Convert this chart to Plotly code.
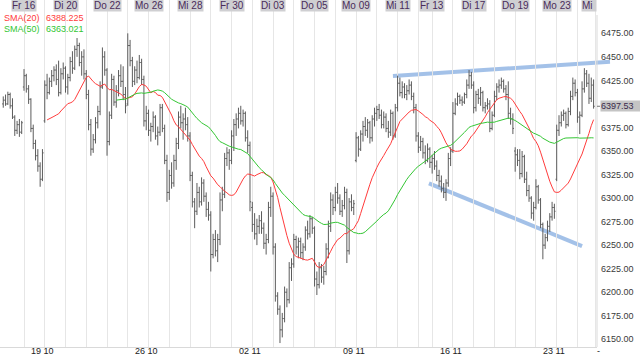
import numpy as np
import pandas as pd
import plotly.graph_objects as go

# ---------------- data ----------------
day_names = ["Do 15", "Fr 16", "Mo 19", "Di 20", "Mi 21", "Do 22", "Fr 23", "Mo 26", "Di 27", "Mi 28",
             "Do 29", "Fr 30", "Mo 02", "Di 03", "Mi 04", "Do 05", "Fr 06", "Mo 09", "Di 10", "Mi 11",
             "Do 12", "Fr 13", "Mo 16", "Di 17", "Mi 18", "Do 19", "Fr 20", "Mo 23", "Di 24", "Mi 25"]
bars_per_day = [9] * 20 + [6] + [9] * 7 + [8]
top_label_days = [1, 3, 5, 7, 9, 11, 13, 15, 17, 19, 21, 23, 25, 27]
week_labels = ["19 10", "26 10", "02 11", "09 11", "16 11", "23 11"]
week_label_days = [2, 7, 12, 17, 22, 27]

opens = [
    6400, 6404, 6400, 6410, 6398, 6386, 6372, 6378, 6370,
    6418, 6430, 6416, 6405, 6374, 6358, 6345, 6334, 6320,
    6382, 6420, 6412, 6424, 6430, 6436, 6426, 6412, 6432,
    6438, 6418, 6428, 6445, 6438, 6458, 6462, 6444, 6450,
    6432, 6410, 6378, 6352, 6362, 6380, 6392, 6418, 6450,
    6436, 6360, 6388, 6426, 6402, 6414, 6430, 6424, 6410,
    6400, 6462, 6446, 6424, 6436, 6428, 6444, 6426, 6382,
    6390, 6372, 6376, 6386, 6366, 6370, 6396, 6374, 6340,
    6306, 6324, 6316, 6340, 6358, 6386, 6380, 6384, 6378,
    6366, 6324, 6296, 6286, 6306, 6296, 6316, 6302, 6288,
    6282, 6240, 6256, 6244, 6256, 6298, 6304, 6342, 6348,
    6340, 6366, 6378, 6384, 6390, 6382, 6390, 6364, 6356,
    6290, 6272, 6262, 6270, 6276, 6268, 6252, 6256, 6290,
    6302, 6248, 6196, 6182, 6160, 6172, 6200, 6192, 6226,
    6230, 6256, 6248, 6254, 6242, 6248, 6266, 6262, 6278,
    6268, 6214, 6208, 6226, 6216, 6222, 6246, 6270, 6298,
    6290, 6306, 6300, 6286, 6292, 6306, 6244, 6296, 6290,
    6340, 6364, 6352, 6368, 6376, 6372, 6380, 6364, 6384,
    6390, 6394, 6388, 6378, 6386, 6374, 6370, 6390, 6366,
    6396, 6422, 6412, 6418, 6410, 6414, 6420, 6408, 6396,
    6366, 6354, 6360, 6348, 6340, 6352,
    6338, 6342, 6334, 6324, 6318, 6310, 6306, 6316, 6342,
    6350, 6390, 6400, 6408, 6404, 6402, 6410, 6420, 6430,
    6420, 6396, 6410, 6406, 6412, 6396, 6398, 6400, 6374,
    6388, 6408, 6418, 6420, 6424, 6416, 6410, 6390, 6384,
    6350, 6346, 6340, 6326, 6344, 6320, 6308, 6300, 6284,
    6290, 6312, 6298, 6272, 6250, 6258, 6270, 6280, 6290,
    6320, 6372, 6380, 6388, 6390, 6378, 6392, 6408, 6422,
    6412, 6386, 6388, 6416, 6432, 6422, 6406, 6420,
]
highs = [
    6408, 6410, 6413, 6412, 6406, 6388, 6382, 6384, 6382,
    6437, 6432, 6420, 6406, 6378, 6362, 6352, 6338, 6352,
    6425, 6432, 6428, 6436, 6440, 6442, 6446, 6438, 6444,
    6440, 6432, 6450, 6456, 6462, 6470, 6465, 6456, 6458,
    6436, 6415, 6384, 6368, 6386, 6398, 6424, 6460, 6456,
    6438, 6392, 6432, 6430, 6420, 6436, 6442, 6440, 6418,
    6475, 6468, 6450, 6440, 6446, 6452, 6448, 6430, 6398,
    6394, 6380, 6392, 6388, 6376, 6400, 6400, 6378, 6346,
    6330, 6338, 6346, 6364, 6392, 6398, 6390, 6396, 6386,
    6370, 6328, 6300, 6316, 6312, 6322, 6320, 6306, 6296,
    6286, 6262, 6266, 6262, 6306, 6312, 6348, 6354, 6352,
    6372, 6384, 6390, 6396, 6398, 6394, 6392, 6372, 6360,
    6296, 6284, 6278, 6282, 6286, 6274, 6262, 6296, 6312,
    6306, 6252, 6200, 6186, 6178, 6206, 6204, 6232, 6236,
    6262, 6260, 6258, 6258, 6252, 6270, 6276, 6282, 6280,
    6270, 6222, 6232, 6230, 6228, 6252, 6276, 6306, 6304,
    6312, 6316, 6304, 6298, 6312, 6310, 6300, 6304, 6298,
    6370, 6366, 6372, 6382, 6386, 6384, 6382, 6388, 6396,
    6398, 6400, 6394, 6392, 6390, 6382, 6394, 6392, 6400,
    6430, 6428, 6424, 6422, 6420, 6426, 6424, 6412, 6400,
    6370, 6366, 6364, 6356, 6358, 6354,
    6346, 6350, 6340, 6330, 6324, 6316, 6320, 6348, 6354,
    6402, 6406, 6412, 6410, 6408, 6412, 6426, 6436, 6434,
    6424, 6414, 6416, 6418, 6414, 6402, 6406, 6404, 6392,
    6414, 6422, 6426, 6428, 6426, 6420, 6424, 6396, 6390,
    6354, 6352, 6352, 6350, 6346, 6328, 6314, 6302, 6296,
    6320, 6314, 6300, 6274, 6262, 6276, 6284, 6296, 6294,
    6378, 6388, 6392, 6394, 6392, 6396, 6414, 6428, 6426,
    6416, 6392, 6424, 6438, 6436, 6432, 6428, 6426,
]
lows = [
    6396, 6398, 6399, 6395, 6384, 6366, 6368, 6365, 6368,
    6414, 6412, 6400, 6370, 6352, 6340, 6328, 6312, 6318,
    6380, 6405, 6410, 6418, 6424, 6420, 6408, 6410, 6426,
    6412, 6410, 6424, 6432, 6436, 6450, 6440, 6430, 6426,
    6405, 6372, 6345, 6348, 6358, 6374, 6388, 6416, 6430,
    6345, 6356, 6384, 6398, 6396, 6408, 6418, 6404, 6390,
    6398, 6440, 6418, 6420, 6422, 6426, 6420, 6376, 6372,
    6366, 6360, 6370, 6362, 6356, 6366, 6370, 6336, 6296,
    6298, 6310, 6312, 6330, 6352, 6374, 6362, 6372, 6360,
    6318, 6290, 6268, 6282, 6290, 6292, 6296, 6280, 6276,
    6222, 6236, 6238, 6232, 6250, 6286, 6300, 6334, 6330,
    6336, 6350, 6366, 6374, 6378, 6376, 6360, 6348, 6286,
    6264, 6256, 6250, 6262, 6262, 6246, 6240, 6252, 6280,
    6240, 6190, 6176, 6146, 6152, 6168, 6184, 6188, 6212,
    6226, 6240, 6236, 6236, 6234, 6244, 6256, 6258, 6262,
    6206, 6197, 6204, 6210, 6208, 6218, 6236, 6264, 6282,
    6286, 6294, 6282, 6280, 6288, 6231, 6240, 6286, 6282,
    6338, 6344, 6350, 6360, 6366, 6364, 6358, 6360, 6376,
    6382, 6384, 6374, 6374, 6370, 6364, 6366, 6362, 6364,
    6392, 6408, 6406, 6406, 6404, 6410, 6404, 6390, 6360,
    6348, 6350, 6342, 6336, 6338, 6332,
    6326, 6330, 6318, 6312, 6306, 6300, 6297, 6312, 6334,
    6348, 6388, 6398, 6400, 6398, 6400, 6406, 6416, 6416,
    6390, 6392, 6400, 6398, 6392, 6390, 6394, 6370, 6372,
    6386, 6404, 6412, 6416, 6412, 6404, 6384, 6378, 6368,
    6328, 6334, 6320, 6322, 6316, 6302, 6296, 6278, 6276,
    6288, 6294, 6268, 6235, 6246, 6254, 6264, 6276, 6278,
    6318, 6366, 6376, 6382, 6374, 6376, 6388, 6404, 6408,
    6380, 6368, 6386, 6412, 6418, 6400, 6402, 6395,
]
closes = [
    6404, 6400, 6410, 6398, 6386, 6372, 6378, 6370, 6380,
    6430, 6416, 6405, 6374, 6358, 6345, 6334, 6320, 6348,
    6420, 6412, 6424, 6430, 6436, 6426, 6412, 6432, 6438,
    6418, 6428, 6445, 6438, 6458, 6462, 6444, 6450, 6432,
    6410, 6378, 6352, 6362, 6380, 6392, 6418, 6450, 6436,
    6360, 6388, 6426, 6402, 6414, 6430, 6424, 6410, 6398,
    6462, 6446, 6424, 6436, 6428, 6444, 6426, 6382, 6390,
    6372, 6376, 6386, 6366, 6370, 6396, 6374, 6340, 6306,
    6324, 6316, 6340, 6358, 6386, 6380, 6384, 6378, 6366,
    6324, 6296, 6286, 6306, 6296, 6316, 6302, 6288, 6282,
    6240, 6256, 6244, 6256, 6298, 6304, 6342, 6348, 6340,
    6366, 6378, 6384, 6390, 6382, 6390, 6364, 6356, 6296,
    6272, 6262, 6270, 6276, 6268, 6252, 6256, 6290, 6302,
    6248, 6196, 6182, 6160, 6172, 6200, 6192, 6226, 6230,
    6256, 6248, 6254, 6242, 6248, 6266, 6262, 6278, 6268,
    6214, 6208, 6226, 6216, 6222, 6246, 6270, 6298, 6290,
    6306, 6300, 6286, 6292, 6306, 6244, 6296, 6290, 6294,
    6364, 6352, 6368, 6376, 6372, 6380, 6364, 6384, 6390,
    6394, 6388, 6378, 6386, 6374, 6370, 6390, 6366, 6396,
    6422, 6412, 6418, 6410, 6414, 6420, 6408, 6396, 6366,
    6354, 6360, 6348, 6340, 6352, 6338,
    6342, 6334, 6324, 6318, 6310, 6306, 6316, 6342, 6350,
    6390, 6400, 6408, 6404, 6402, 6410, 6420, 6430, 6420,
    6396, 6410, 6406, 6412, 6396, 6398, 6400, 6374, 6388,
    6408, 6418, 6420, 6424, 6416, 6410, 6390, 6384, 6374,
    6346, 6340, 6326, 6344, 6320, 6308, 6300, 6284, 6290,
    6312, 6298, 6272, 6250, 6258, 6270, 6280, 6290, 6286,
    6372, 6380, 6388, 6390, 6378, 6392, 6408, 6422, 6412,
    6386, 6388, 6416, 6432, 6422, 6406, 6420, 6397.53,
]

sma_periods = [20, 50]
sma_names = ["SMA(20)", "SMA(50)"]
sma_last_text = ["6388.225", "6363.021"]
last_price_text = "6397.53"

# hand-drawn trend lines (bar index, price)
trend_upper_x = [169.0, 263.1]
trend_upper_y = [6429.6, 6444.8]
trend_lower_x = [184.6, 251.0]
trend_lower_y = [6315.7, 6249.0]

ytick_vals = [6150, 6175, 6200, 6225, 6250, 6275, 6300, 6325, 6350, 6375, 6425, 6450, 6475]

# ---------------- figure ----------------
W, H = 640, 356
ML, MR, MT, MB = 0, 43, 0, 9
PW, PH = W - ML - MR, H - MT - MB

X0, X1 = -1.41, 257.48
Y0, Y1 = 6141.8, 6510.4

n = len(closes)
idx = list(range(n))
day_start = np.concatenate([[0], np.cumsum(bars_per_day)])

RED = "#ff3b3b"
GREEN = "#33c633"
FONT = "Liberation Sans, Arial, sans-serif"

fig = go.Figure()
fig.add_trace(go.Ohlc(
    x=idx, open=opens, high=highs, low=lows, close=closes,
    increasing=dict(line=dict(color="#5c5c5c", width=1)),
    decreasing=dict(line=dict(color="#5c5c5c", width=1)),
    tickwidth=0.5, hoverinfo="skip", showlegend=False,
))

cs = pd.Series(closes)
for per, col in zip(sma_periods, [RED, GREEN]):
    s = cs.rolling(per).mean()
    fig.add_trace(go.Scatter(x=idx[per - 1:], y=s.values[per - 1:], mode="lines",
                             line=dict(color=col, width=1), hoverinfo="skip", showlegend=False))


def px_x(v):
    return (v - X0) / (X1 - X0)


def px_y(v):
    return (v - Y0) / (Y1 - Y0)


shapes = []
for tx, ty in [(trend_upper_x, trend_upper_y), (trend_lower_x, trend_lower_y)]:
    shapes.append(dict(type="line", xref="paper", yref="paper",
                       x0=px_x(tx[0]), y0=px_y(ty[0]), x1=px_x(tx[1]), y1=px_y(ty[1]),
                       line=dict(color="rgba(140,178,226,0.8)", width=4), layer="below"))
# right axis line
shapes.append(dict(type="line", xref="paper", yref="paper", x0=1, x1=1, y0=0, y1=1 - 15 / PH,
                   line=dict(color="#d9d9d9", width=1)))
# small dash at last price
shapes.append(dict(type="line", xref="paper", yref="y", x0=1, x1=1 + 3 / PW,
                   y0=float(closes[-1]), y1=float(closes[-1]), line=dict(color="#777", width=1)))

annotations = []
for d in top_label_days:
    annotations.append(dict(x=float(day_start[d]), y=1, xref="x", yref="paper", text=day_names[d],
                            showarrow=False, xanchor="center", yanchor="top", yshift=1,
                            bgcolor="#cfcfd2", borderpad=0,
                            font=dict(family=FONT, size=10, color="#4a2c5a")))
# last, clipped day label
annotations.append(dict(x=1, y=1, xref="paper", yref="paper", text=day_names[-1][:2],
                        showarrow=False, xanchor="right", yanchor="top", yshift=1,
                        bgcolor="#cfcfd2", borderpad=0, width=14, align="left",
                        font=dict(family=FONT, size=10, color="#4a2c5a")))
for lab, d in zip(week_labels, week_label_days):
    annotations.append(dict(x=float(day_start[d]) - 1, y=0, xref="x", yref="paper", text=lab,
                            showarrow=False, xanchor="center", yanchor="top", yshift=3,
                            font=dict(family=FONT, size=9, color="#222")))
annotations.append(dict(x=1, y=0, xref="paper", yref="paper", text="-", showarrow=False,
                        xanchor="center", yanchor="top", yshift=3, xshift=1,
                        font=dict(family=FONT, size=9, color="#222")))
# SMA legend
for k, (nm, val, col) in enumerate(zip(sma_names, sma_last_text, [RED, GREEN])):
    ypos = 1 - (18 + 10.5 * k) / PH
    annotations.append(dict(x=2 / PW, y=ypos, xref="paper", yref="paper", text=nm, showarrow=False,
                            xanchor="left", yanchor="middle", font=dict(family=FONT, size=9, color=col)))
    annotations.append(dict(x=44 / PW, y=ypos, xref="paper", yref="paper", text=val, showarrow=False,
                            xanchor="left", yanchor="middle", font=dict(family=FONT, size=9, color=col)))
# last price box
annotations.append(dict(x=1, y=float(closes[-1]), xref="paper", yref="y", text=last_price_text,
                        showarrow=False, xanchor="left", yanchor="middle", xshift=3,
                        bgcolor="#c4c4c4", borderpad=0, width=40, align="left",
                        font=dict(family=FONT, size=9, color="#3a2a4a")))

fig.update_layout(
    width=W, height=H,
    margin=dict(l=ML, r=MR, t=MT, b=MB),
    paper_bgcolor="white", plot_bgcolor="rgba(0,0,0,0)",
    showlegend=False,
    shapes=shapes, annotations=annotations,
    xaxis=dict(range=[X0, X1], rangeslider=dict(visible=False), showgrid=True,
               gridcolor="#e6e6e6", gridwidth=1, tickvals=[float(v) for v in day_start[1:]],
               showticklabels=False, ticks="", zeroline=False, showline=True,
               linecolor="#d9d9d9", linewidth=1),
    yaxis=dict(range=[Y0, Y1], side="right", showgrid=False, zeroline=False,
               tickvals=ytick_vals, ticktext=["%.2f" % v for v in ytick_vals],
               ticks="", ticklabelstandoff=3,
               tickfont=dict(family=FONT, size=9, color="#3a3a3a")),
)

fig.write_html("out.html", config={"displayModeBar": False},
               post_script="document.body.style.margin='0';document.body.style.padding='0';"
                           "document.body.style.overflow='hidden';")
